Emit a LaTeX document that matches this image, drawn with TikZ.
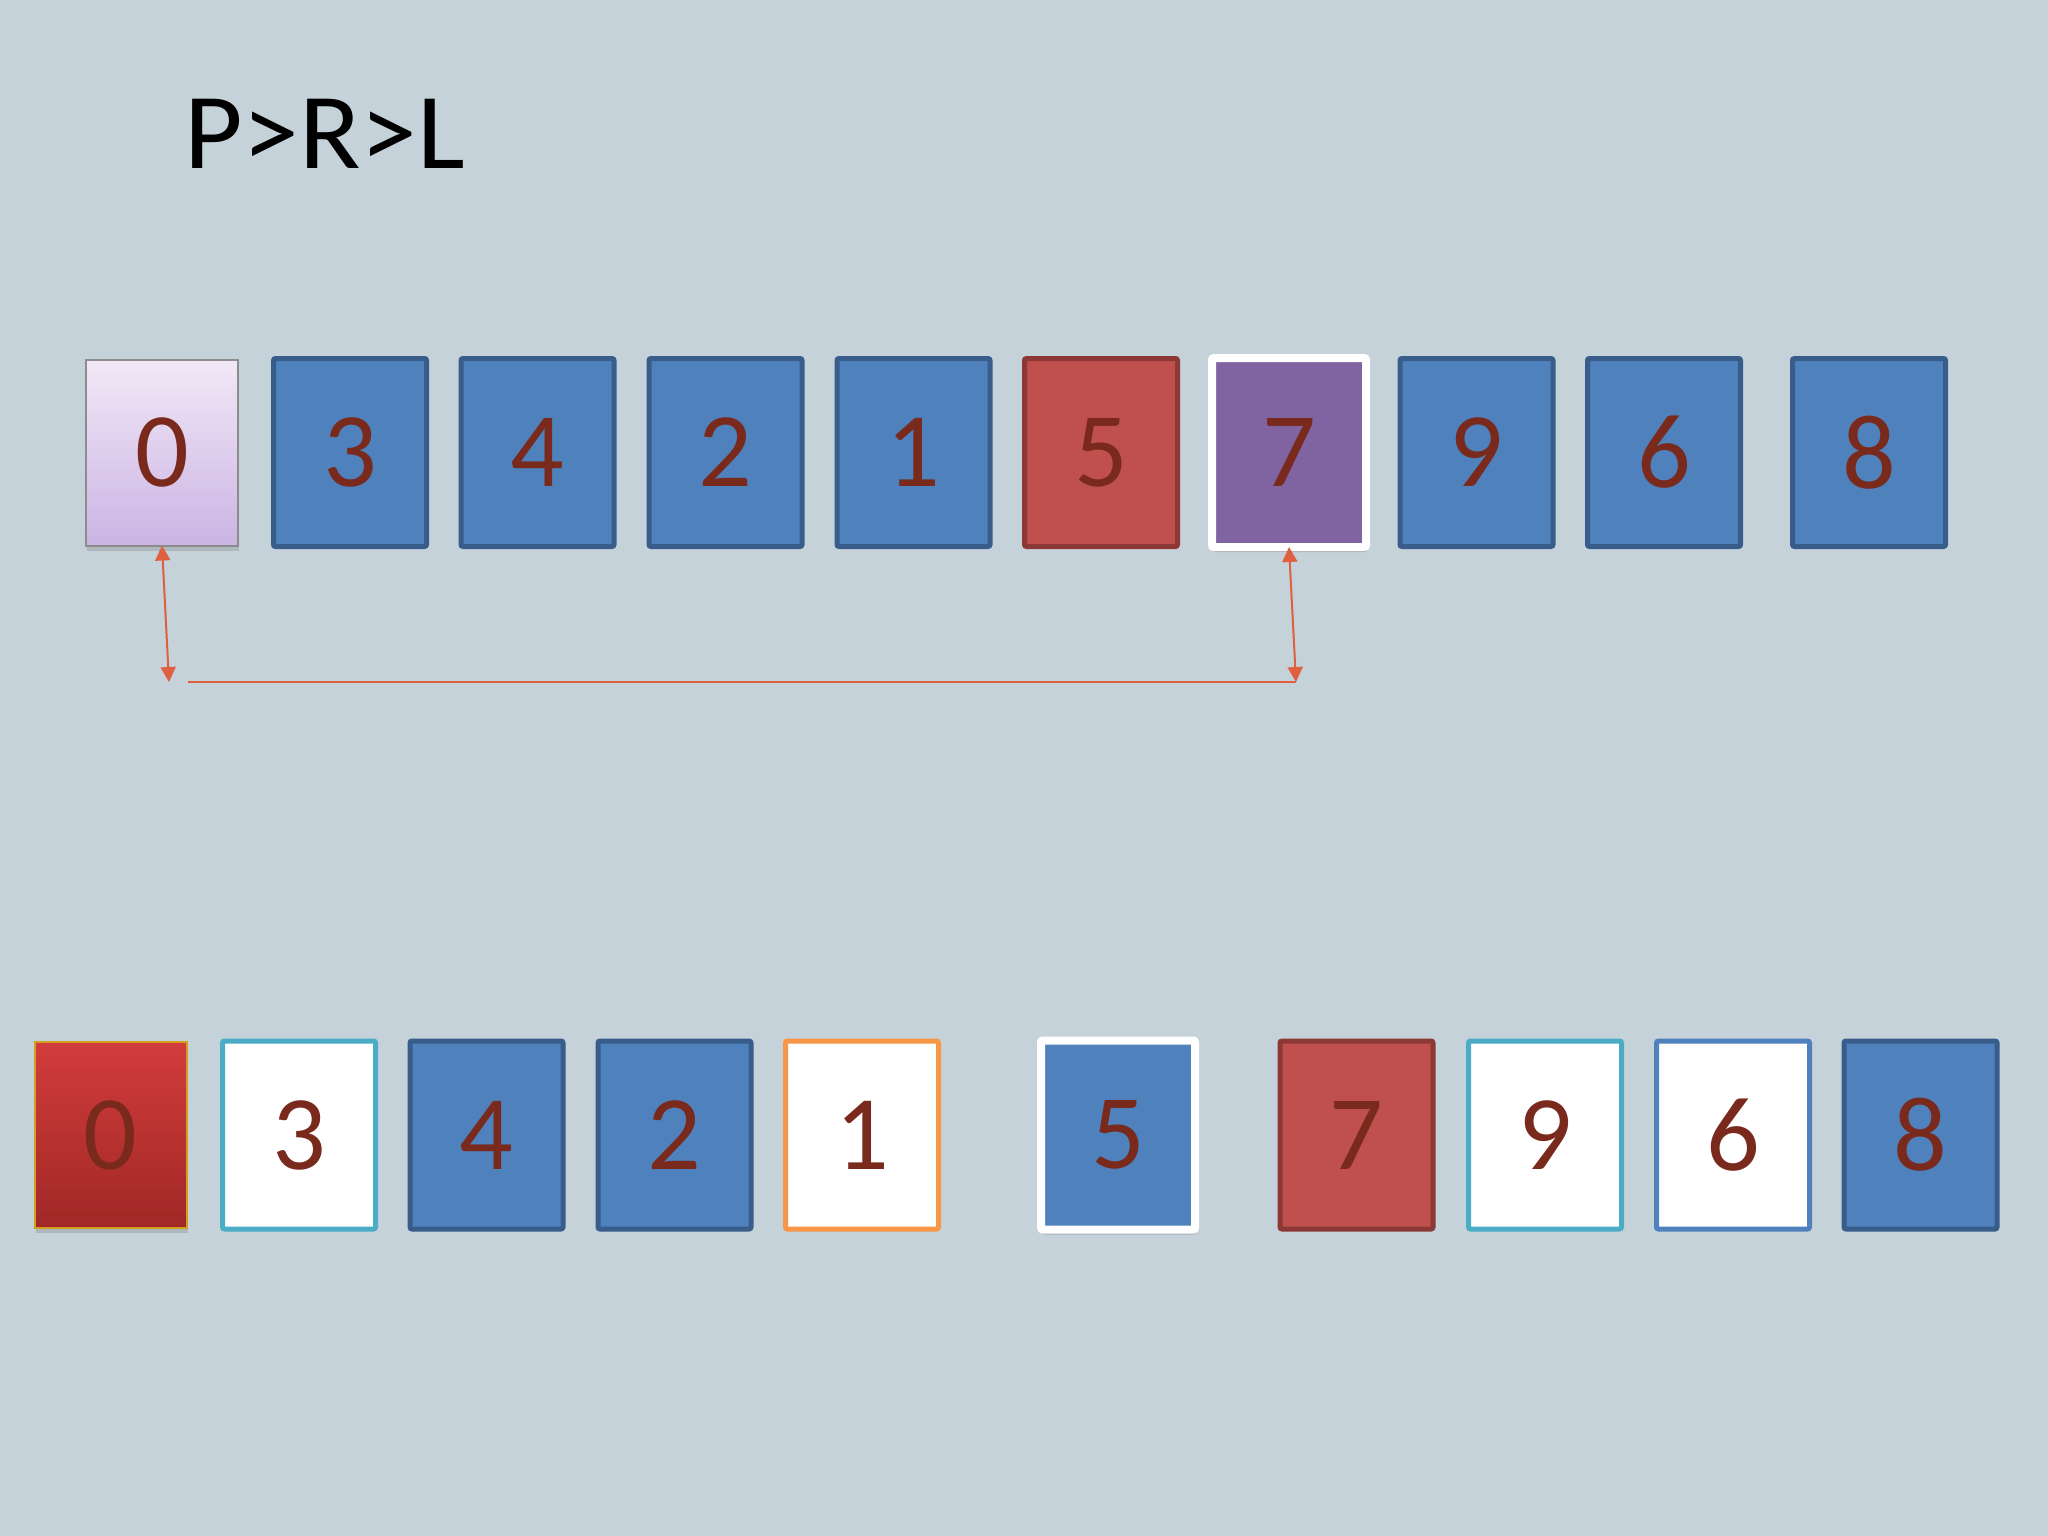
\documentclass[tikz,border=0pt]{standalone}
\usepackage{fontspec}
\setmainfont{Carlito}
\usetikzlibrary{arrows.meta,shadows}
\definecolor{bg}{RGB}{198,210,217}
\definecolor{cblue}{RGB}{79,129,189}
\definecolor{cblueB}{RGB}{56,93,138}
\definecolor{cred}{RGB}{192,80,77}
\definecolor{credB}{RGB}{140,56,54}
\definecolor{cpurple}{RGB}{128,100,162}
\definecolor{cteal}{RGB}{75,172,198}
\definecolor{corange}{RGB}{247,150,70}
\definecolor{digit}{RGB}{122,42,28}
\definecolor{arrowc}{RGB}{222,96,64}
\definecolor{lavtop}{RGB}{242,232,247}
\definecolor{lavbot}{RGB}{203,180,228}
\definecolor{redtop}{RGB}{210,60,60}
\definecolor{redbot}{RGB}{160,40,38}
\definecolor{gold}{RGB}{210,160,30}
\tikzset{
  cell/.style={draw, line width=5pt, rounded corners=2pt, outer sep=0pt, inner sep=0pt,
    minimum width=153pt, minimum height=188pt, text=digit,
    font=\fontsize{106}{106}\selectfont},
  bluecell/.style={cell, fill=cblue, draw=cblueB},
  redcell/.style={cell, fill=cred, draw=credB},
  whitecell/.style={cell, fill=white, draw=#1},
  framed/.style={cell, line width=8pt, draw=white, fill=#1, minimum width=154pt, minimum height=189pt,
    drop shadow={shadow xshift=1pt, shadow yshift=-5pt, opacity=0.25, fill=black!70}},
  thincell/.style={cell, line width=2pt, rounded corners=0pt, minimum width=152pt, minimum height=186pt,
    drop shadow={shadow xshift=1pt, shadow yshift=-5pt, opacity=0.2, fill=black!70}},
  arr/.style={draw=arrowc, line width=2pt, {Triangle[length=15pt,width=15pt]}-{Triangle[length=15pt,width=15pt]}},
  hline/.style={draw=arrowc, line width=2pt}
}
\begin{document}
\begin{tikzpicture}[x=1pt,y=-1pt]
\fill[bg] (0,0) rectangle (2048,1536);
\useasboundingbox (0,0) rectangle (2048,1536);

\node[anchor=base west, inner sep=0pt, font=\fontsize{108}{108}\selectfont] (title) at (184,168) {\scalebox{1.05}[1]{P>R>L}};

% top row
\node[thincell, draw=black!45, top color=lavtop, bottom color=lavbot] (t0) at (162,452.5) {0};
\node[bluecell] (t3) at (350,452.5) {3};
\node[bluecell] (t4) at (537.5,452.5) {4};
\node[bluecell] (t2) at (725.5,452.5) {2};
\node[bluecell] (t1) at (913.5,452.5) {1};
\node[redcell] (t5) at (1101,452.5) {5};
\node[framed=cpurple] (t7) at (1289,452.5) {7};
\node[bluecell] (t9) at (1476.5,452.5) {9};
\node[bluecell] (t6) at (1664,452.5) {6};
\node[bluecell] (t8) at (1869,452.5) {8};

% connectors
\coordinate (aL) at (169,682);
\coordinate (aR) at (1296,682);
\coordinate (hL) at (188,682);
\draw[arr] (t0.south) -- (aL);
\draw[arr] (t7.south) -- (aR);
\draw[hline] (hL) -- (aR);

% bottom row
\node[thincell, draw=gold, top color=redtop, bottom color=redbot] (b0) at (110.5,1135) {0};
\node[whitecell=cteal] (b3) at (299,1135) {3};
\node[bluecell] (b4) at (486.5,1135) {4};
\node[bluecell] (b2) at (674.5,1135) {2};
\node[whitecell=corange] (b1) at (862,1135) {1};
\node[framed=cblue] (b5) at (1118,1135) {5};
\node[redcell] (b7) at (1356.5,1135) {7};
\node[whitecell=cteal] (b9) at (1545,1135) {9};
\node[whitecell=cblue] (b6) at (1733,1135) {6};
\node[bluecell] (b8) at (1920.5,1135) {8};
\end{tikzpicture}
\end{document}
